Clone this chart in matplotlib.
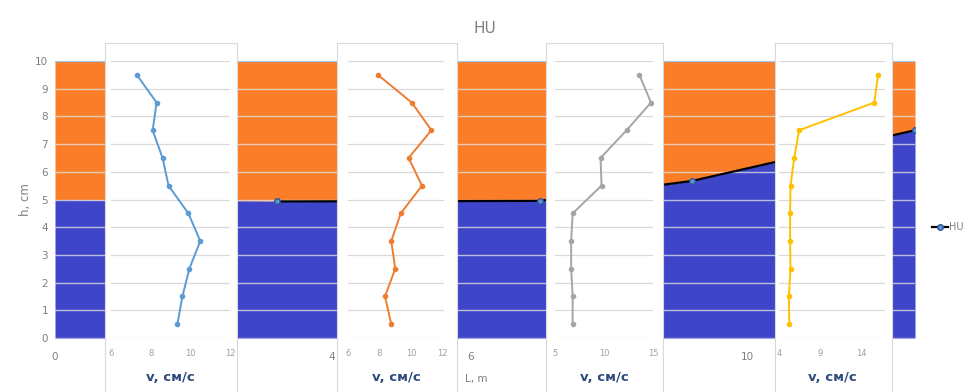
import matplotlib
matplotlib.use("Agg")
import matplotlib.pyplot as plt

# main profile along the channel
L_area = [0, 3.2, 7.0, 9.2, 12.42]
h_area = [5.0, 4.95, 4.95, 5.67, 7.5]
L_hu = [3.2, 7.0, 9.2, 12.42]
h_hu = [4.93, 4.95, 5.67, 7.5]
L_ticks = [0, 4, 6, 10]   # the others sit behind the insets

# velocity profiles (one per section)
h_v = [9.5, 8.5, 7.5, 6.5, 5.5, 4.5, 3.5, 2.5, 1.5, 0.5]
v1 = [7.3, 8.3, 8.1, 8.6, 8.9, 9.9, 10.5, 9.95, 9.6, 9.35]
v2 = [7.9, 10.05, 11.3, 9.85, 10.7, 9.35, 8.75, 9.0, 8.35, 8.75]
v3 = [13.6, 14.8, 12.3, 9.65, 9.75, 6.8, 6.65, 6.65, 6.8, 6.8]
v4 = [16.05, 15.6, 6.45, 5.85, 5.4, 5.35, 5.35, 5.4, 5.2, 5.25]

ORANGE = "#FB7D28"
BLUE = "#3E45C9"
GRID = "#d9d9d9"
TXT = "#808080"

W, H = 974, 392
fig = plt.figure(figsize=(W / 100, H / 100), dpi=100)


def rect(x0, x1, y_top, y_bot):
    return [x0 / W, 1 - y_bot / H, (x1 - x0) / W, (y_bot - y_top) / H]


# -----------------------------------------------------------------------
# main axes
# -----------------------------------------------------------------------
ax = fig.add_axes(rect(55, 915, 61, 338))
top = [10] * len(L_area)
ax.fill_between(L_area, 0, h_area, color=BLUE, lw=0)
ax.fill_between(L_area, h_area, top, color=ORANGE, lw=0)
for y in range(0, 10):
    ax.axhline(y, color="#e6e6e6", lw=1, alpha=0.75, zorder=2)
ax.axhline(10, color="#9DC3E6", lw=1, zorder=2)
ax.plot(L_hu, h_hu, color="black", lw=1.6, marker="o", ms=4,
        mfc="#5B9BD5", mec="#2F5597", zorder=3, label="HU")
ax.set_xlim(0, 12.42)
ax.set_ylim(0, 10)
ax.set_yticks(range(0, 11))
ax.set_xticks(L_ticks)
for s in ax.spines.values():
    s.set_visible(False)
ax.tick_params(length=0, labelsize=7.5, labelcolor=TXT, pad=5)
ax.tick_params(axis="x", pad=10)
ax.set_ylabel("h, cm", color=TXT, fontsize=8.5, labelpad=2)
ax.set_xlabel("L, m", color=TXT, fontsize=7.5)
ax.xaxis.set_label_coords(0.49, -0.13)
ax.set_title("HU", color="#7f7f7f", fontsize=11, pad=20)
ax.legend(loc="center left", bbox_to_anchor=(1.01, 0.40), frameon=False,
          fontsize=7, labelcolor=TXT, handlelength=1.6, handletextpad=0.1)

# -----------------------------------------------------------------------
# inset velocity profiles
# -----------------------------------------------------------------------
insets = [
    (105, 237, 111, 230, v1, "#5B9BD5", (6, 12), [6, 8, 10, 12]),
    (337, 457, 348, 444, v2, "#ED7D31", (6, 12.1), [6, 8, 10, 12]),
    (546, 663, 555, 653, v3, "#A5A5A5", (5, 15), [5, 10, 15]),
    (775, 892, 779, 885, v4, "#FFC000", (4, 16.9), [4, 9, 14]),
]

for bx0, bx1, px0, px1, v, col, xl, xt in insets:
    box = fig.add_axes(rect(bx0, bx1, 43, 395))
    box.set_xticks([])
    box.set_yticks([])
    box.set_facecolor("white")
    for s in box.spines.values():
        s.set_color(GRID)
        s.set_linewidth(0.8)

    a = fig.add_axes(rect(px0, px1, 61, 338))
    a.patch.set_visible(False)
    for y in range(0, 11):
        a.axhline(y, color=GRID, lw=0.9, zorder=1)
    a.plot(v, h_v, color=col, lw=1.4, marker="o", ms=3, zorder=3)
    a.set_xlim(*xl)
    a.set_ylim(0, 10)
    a.set_yticks([])
    a.set_xticks(xt)
    for s in a.spines.values():
        s.set_visible(False)
    a.tick_params(length=0, labelsize=6, labelcolor="#a0a0a0", pad=8)
    a.set_xlabel("v, см/с", fontsize=9.5, fontweight="bold",
                 color="#2E4A7D", labelpad=9)

plt.savefig("out.png", dpi=100)
